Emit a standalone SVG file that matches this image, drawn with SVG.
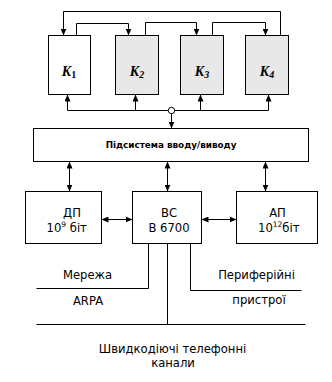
<svg xmlns="http://www.w3.org/2000/svg" width="332" height="382" viewBox="0 0 332 382">
<style>
.box{fill:#fff;stroke:#000;stroke-width:1}
.grey{fill:#e8e8e8}
.ln{fill:none;stroke:#000;stroke-width:1}
.t{font-family:"DejaVu Sans",Verdana,sans-serif;font-size:11.6px;fill:#000}
.k{font-family:"Liberation Serif","Times New Roman",serif;font-style:italic;font-weight:bold;font-size:14px;fill:#000}
.ks{font-size:10px}
.io{font-family:"DejaVu Sans",Verdana,sans-serif;font-size:8.8px;font-weight:bold;fill:#000}
</style>
<defs>
<marker id="ah" viewBox="0 0 7 6" refX="7" refY="3" markerWidth="7" markerHeight="6" markerUnits="userSpaceOnUse" orient="auto-start-reverse"><path d="M0,0 L7,3 L0,6 z" fill="#000"/></marker>
</defs>
<rect width="332" height="382" fill="#fff"/>
<g id="connectors">
<path class="ln" d="M280.5,35.5 V11.5 H63.5 V35.5" marker-end="url(#ah)"/>
<path class="ln" d="M76.5,35.5 V23.5 H128.5 V35.5" marker-end="url(#ah)"/>
<path class="ln" d="M145.5,35.5 V22.5 H196.5 V35.5" marker-end="url(#ah)"/>
<path class="ln" d="M212.5,35.5 V22.5 H265.5 V35.5" marker-end="url(#ah)"/>
<path class="ln" d="M67.5,110.5 H268.5"/>
<path class="ln" d="M67.5,110.5 V94.5" marker-end="url(#ah)"/>
<path class="ln" d="M135.5,110.5 V94.5" marker-end="url(#ah)"/>
<path class="ln" d="M200.5,110.5 V94.5" marker-end="url(#ah)"/>
<path class="ln" d="M268.5,110.5 V94.5" marker-end="url(#ah)"/>
<path class="ln" d="M171.5,113.5 V128.5" marker-end="url(#ah)"/>
<circle cx="171.5" cy="110.5" r="3.2" fill="#fff" stroke="#000" stroke-width="1"/>
<path class="ln" d="M69.5,161.5 V191.5" marker-start="url(#ah)" marker-end="url(#ah)"/>
<path class="ln" d="M167.5,161.5 V191.5" marker-start="url(#ah)" marker-end="url(#ah)"/>
<path class="ln" d="M265.5,161.5 V191.5" marker-start="url(#ah)" marker-end="url(#ah)"/>
<path class="ln" d="M101.5,219.5 H132.5" marker-start="url(#ah)" marker-end="url(#ah)"/>
<path class="ln" d="M201.5,219.5 H236.5" marker-start="url(#ah)" marker-end="url(#ah)"/>
<path class="ln" d="M148.5,243.5 V288.5 H36.5"/>
<path class="ln" d="M167.5,243.5 V324.5"/>
<path class="ln" d="M190.5,243.5 V290.5 H301.5"/>
<path class="ln" d="M36.5,324.5 H305.5"/>
</g>
<g id="K1"><rect class="box" x="48.5" y="35.5" width="42" height="59"/><text class="k" x="69" y="75.5" text-anchor="middle">K<tspan class="ks" dy="2" font-style="normal">1</tspan></text></g>
<g id="K2"><rect class="box grey" x="115.5" y="35.5" width="43" height="59"/><text class="k" x="137" y="75.5" text-anchor="middle">K<tspan class="ks" dy="2">2</tspan></text></g>
<g id="K3"><rect class="box grey" x="180.5" y="35.5" width="43" height="59"/><text class="k" x="202" y="75.5" text-anchor="middle">K<tspan class="ks" dy="2">3</tspan></text></g>
<g id="K4"><rect class="box grey" x="245.5" y="35.5" width="43" height="59"/><text class="k" x="267" y="75.5" text-anchor="middle">K<tspan class="ks" dy="2">4</tspan></text></g>
<g id="io"><rect class="box" x="33.5" y="128.5" width="275" height="33"/><text class="io" x="171" y="148" text-anchor="middle">Підсистема вводу/виводу</text></g>
<g id="dp"><rect class="box" x="25.5" y="191.5" width="76" height="52"/><text class="t" x="72" y="216.5" text-anchor="middle">ДП</text><text class="t" x="46.5" y="231.5">10<tspan font-size="7.5" dy="-5">9</tspan><tspan dy="5"> біт</tspan></text></g>
<g id="bc"><rect class="box" x="132.5" y="191.5" width="69" height="52"/><text class="t" x="169" y="216.5" text-anchor="middle">ВС</text><text class="t" x="169" y="231.5" text-anchor="middle">В 6700</text></g>
<g id="ap"><rect class="box" x="236.5" y="191.5" width="81" height="52"/><text class="t" x="277.5" y="216.5" text-anchor="middle">АП</text><text class="t" x="258" y="231.5">10<tspan font-size="7.5" dy="-5">12</tspan><tspan dy="5">біт</tspan></text></g>
<g id="labels">
<text class="t" x="87.5" y="279" text-anchor="middle">Мережа</text>
<text class="t" x="88" y="305" text-anchor="middle">ARPA</text>
<text class="t" x="256.5" y="279" text-anchor="middle">Периферійні</text>
<text class="t" x="259" y="304" text-anchor="middle">пристрої</text>
<text class="t" x="172.5" y="353" text-anchor="middle">Швидкодіючі телефонні</text>
<text class="t" x="173" y="367" text-anchor="middle">канали</text>
</g>
</svg>
